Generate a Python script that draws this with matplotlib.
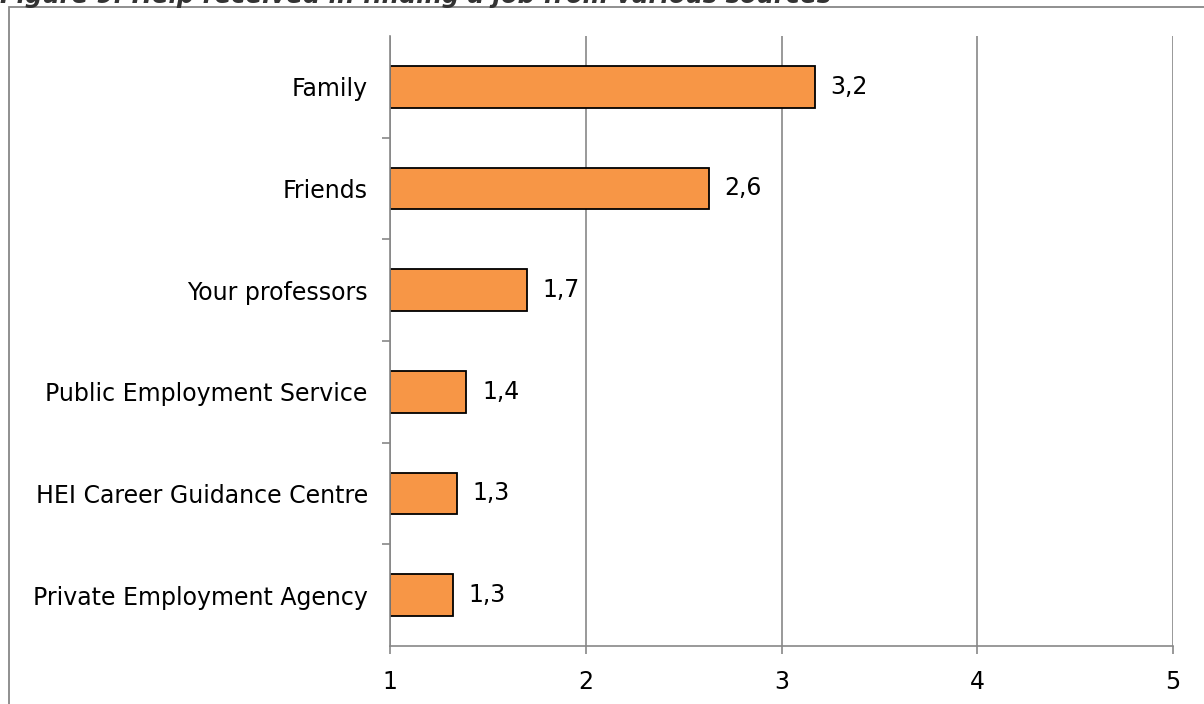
import matplotlib.pyplot as plt
from matplotlib.patches import Rectangle

kategorien = ['Family', 'Friends', 'Your professors', 'Public Employment Service',
              'HEI Career Guidance Centre', 'Private Employment Agency']
werte = [3.17, 2.63, 1.70, 1.39, 1.34, 1.32]
x_ticks = [1, 2, 3, 4, 5]

titel = 'Figure 9: Help received in finding a job from various sources'
grau = '#878787'

fig = plt.figure(figsize=(12.04, 7.04), dpi=100)
ax = fig.add_axes([0.3239, 0.0824, 0.6504, 0.8665])

y = list(range(len(kategorien)))[::-1]
xmin, xmax = x_ticks[0], x_ticks[-1]
breiten = [w - xmin for w in werte]
ax.barh(y, breiten, left=xmin, height=0.41, color='#F79646',
        edgecolor='black', linewidth=1.3, zorder=3)

for yi, w in zip(y, werte):
    ax.text(w + 0.08, yi, f'{w:.1f}'.replace('.', ','), va='center', ha='left',
            fontsize=17, color='black', zorder=4,
            bbox=dict(facecolor='white', edgecolor='none', pad=2))

ax.set_xlim(xmin, xmax)
ax.set_ylim(-0.5, len(kategorien) - 0.5)
ax.set_xticks(x_ticks)
ax.set_xticklabels([str(t) for t in x_ticks])
ax.set_yticks(y)
ax.set_yticklabels(kategorien)
ax.set_yticks([i + 0.5 for i in range(len(kategorien) - 1)], minor=True)

ax.grid(axis='x', color=grau, linewidth=1.2, zorder=0)
for s in ['top', 'right']:
    ax.spines[s].set_visible(False)
for s in ['left', 'bottom']:
    ax.spines[s].set_color(grau)
    ax.spines[s].set_linewidth(1.2)
    ax.spines[s].set_zorder(5)

ax.tick_params(axis='y', which='major', length=0, pad=16, labelsize=17)
ax.tick_params(axis='y', which='minor', length=6, width=1.2, color=grau)
ax.tick_params(axis='x', length=6, width=1.2, color=grau, pad=11, labelsize=17)

# Rahmen um die Grafik
rahmen = Rectangle((9 / 1204, -0.05), 1.1, 1 - 7 / 704 + 0.05, transform=fig.transFigure,
                   fill=False, edgecolor=grau, linewidth=1.3, clip_on=False)
fig.patches.append(rahmen)

fig.text(0.0, 1 - 3 / 704, titel, ha='left', va='baseline', fontsize=17.5,
         fontweight='bold', fontstyle='italic', color='#333333')

fig.savefig('out.png', dpi=100)
